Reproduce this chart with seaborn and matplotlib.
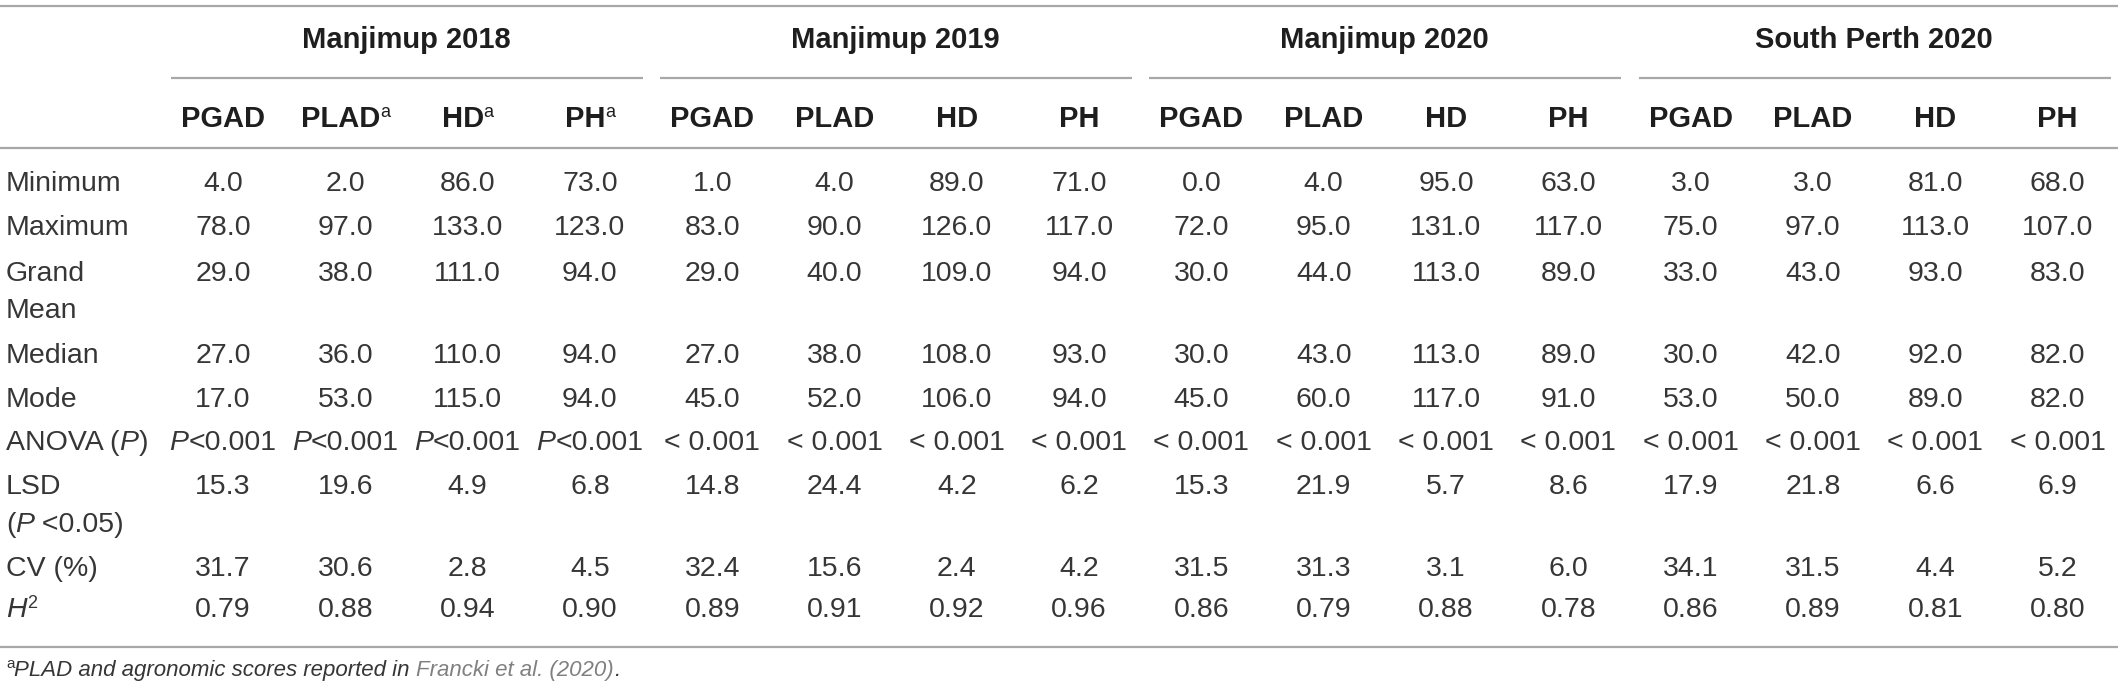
import matplotlib
matplotlib.use("Agg")
import matplotlib.pyplot as plt
import seaborn as sns
import numpy as np
import pandas as pd

# ---------------- data ----------------
groups = ["Manjimup 2018", "Manjimup 2019", "Manjimup 2020", "South Perth 2020"]
traits = ["PGAD", "PLAD", "HD", "PH"]
# traits carrying footnote mark "a" (per group)
trait_marks = [[False, True, True, True],
               [False, False, False, False],
               [False, False, False, False],
               [False, False, False, False]]

minimum    = [4.0, 2.0, 86.0, 73.0, 1.0, 4.0, 89.0, 71.0, 0.0, 4.0, 95.0, 63.0, 3.0, 3.0, 81.0, 68.0]
maximum    = [78.0, 97.0, 133.0, 123.0, 83.0, 90.0, 126.0, 117.0, 72.0, 95.0, 131.0, 117.0, 75.0, 97.0, 113.0, 107.0]
grand_mean = [29.0, 38.0, 111.0, 94.0, 29.0, 40.0, 109.0, 94.0, 30.0, 44.0, 113.0, 89.0, 33.0, 43.0, 93.0, 83.0]
median     = [27.0, 36.0, 110.0, 94.0, 27.0, 38.0, 108.0, 93.0, 30.0, 43.0, 113.0, 89.0, 30.0, 42.0, 92.0, 82.0]
mode       = [17.0, 53.0, 115.0, 94.0, 45.0, 52.0, 106.0, 94.0, 45.0, 60.0, 117.0, 91.0, 53.0, 50.0, 89.0, 82.0]
anova_p    = ["P<0.001"] * 4 + ["< 0.001"] * 12
lsd        = [15.3, 19.6, 4.9, 6.8, 14.8, 24.4, 4.2, 6.2, 15.3, 21.9, 5.7, 8.6, 17.9, 21.8, 6.6, 6.9]
cv         = [31.7, 30.6, 2.8, 4.5, 32.4, 15.6, 2.4, 4.2, 31.5, 31.3, 3.1, 6.0, 34.1, 31.5, 4.4, 5.2]
h2         = [0.79, 0.88, 0.94, 0.90, 0.89, 0.91, 0.92, 0.96, 0.86, 0.79, 0.88, 0.78, 0.86, 0.89, 0.81, 0.80]

footnote_main = "PLAD and agronomic scores reported in "
footnote_ref = "Francki et al. (2020)"

# ---------------- style / layout ----------------
W, H = 2118, 693
sns.set_theme(style="white")
plt.rcParams["font.family"] = ["Liberation Sans", "DejaVu Sans"]

BODY = "#363636"
HEAD = "#1e1e1e"
LINE = "#a8a8a8"
FS = 20.5
FSB = 21
SUP = 13

fig = plt.figure(figsize=(W / 100, H / 100), dpi=100)
ax = fig.add_axes([0, 0, 1, 1])
ax.set_xlim(0, W)
ax.set_ylim(H, 0)
ax.axis("off")
sns.despine(ax=ax, left=True, bottom=True)
renderer = fig.canvas.get_renderer()


def rich(x, y, segs, ha="center"):
    """segs: list of (text, props, rise_px). y is the baseline in px."""
    arts, widths = [], []
    for txt, kw, rise in segs:
        t = ax.text(0, y - rise, txt, ha="left", va="baseline", **kw)
        widths.append(t.get_window_extent(renderer).width)
        arts.append(t)
    total = sum(widths)
    x0 = x - total / 2 if ha == "center" else x
    for t, w in zip(arts, widths):
        t.set_x(x0)
        x0 += w


body = dict(fontsize=FS, color=BODY)
body_it = dict(fontsize=FS, color=BODY, style="italic")
bold = dict(fontsize=FSB, color=HEAD, fontweight="bold")
sup = dict(fontsize=SUP, color=HEAD)

n_cols = len(groups) * len(traits)
col_x = 223 + 122.3 * np.arange(n_cols)
label_x = 6
CAP = 10  # half cap-height offset to baseline

# horizontal rules
ax.hlines(6, 0, W, color=LINE, lw=1.6)
ax.hlines(148, 0, W, color=LINE, lw=1.6)
ax.hlines(647, 0, W, color=LINE, lw=1.6)

# group headers and underlines
for gi, g in enumerate(groups):
    c0 = col_x[gi * 4]
    c3 = col_x[gi * 4 + 3]
    ax.hlines(78, c0 - 52, c3 + 53, color=LINE, lw=1.6)
    rich((c0 + c3) / 2, 38 + CAP, [(g, bold, 0)])
    for ti, tr in enumerate(traits):
        segs = [(tr, bold, 0)]
        if trait_marks[gi][ti]:
            segs.append(("a", sup, 10))
        rich(col_x[gi * 4 + ti], 117 + CAP, segs)

# body rows
rows = [
    ("Minimum", None, minimum, "{:.1f}", 181),
    ("Maximum", None, maximum, "{:.1f}", 225),
    ("Grand", "Mean", grand_mean, "{:.1f}", 271),
    ("Median", None, median, "{:.1f}", 353),
    ("Mode", None, mode, "{:.1f}", 397),
    ("ANOVA", None, anova_p, None, 440),
    ("LSD", "(P<0.05)", lsd, "{:.1f}", 484),
    ("CV (%)", None, cv, "{:.1f}", 566),
    ("H2", None, h2, "{:.2f}", 607),
]

for lab, lab2, vals, fmt, yc in rows:
    yb = yc + CAP
    if lab == "ANOVA":
        rich(label_x, yb, [("ANOVA (", body, 0), ("P", body_it, 0), (")", body, 0)], ha="left")
    elif lab == "H2":
        rich(label_x, yb, [("H", body_it, 0), ("2", dict(fontsize=SUP, color=BODY), 9)], ha="left")
    else:
        rich(label_x, yb, [(lab, body, 0)], ha="left")
    if lab2 == "Mean":
        rich(label_x, 308 + CAP, [("Mean", body, 0)], ha="left")
    elif lab2 is not None:
        rich(label_x, 522 + CAP, [("(", body, 0), ("P", body_it, 0), (" <0.05)", body, 0)], ha="left")
    for ci, v in enumerate(vals):
        if fmt is None:
            if v.startswith("P"):
                rich(col_x[ci], yb, [("P", body_it, 0), (v[1:], body, 0)])
            else:
                rich(col_x[ci], yb, [(v, body, 0)])
        else:
            rich(col_x[ci], yb, [(fmt.format(v), body, 0)])

# footnote
fn_it = dict(fontsize=16, color=BODY, style="italic")
rich(6, 676, [("a", dict(fontsize=11, color=BODY), 8),
              (footnote_main, fn_it, 0),
              (footnote_ref, dict(fontsize=16, color="#808080", style="italic"), 0),
              (".", fn_it, 0)], ha="left")

fig.savefig("out.png", dpi=100)
